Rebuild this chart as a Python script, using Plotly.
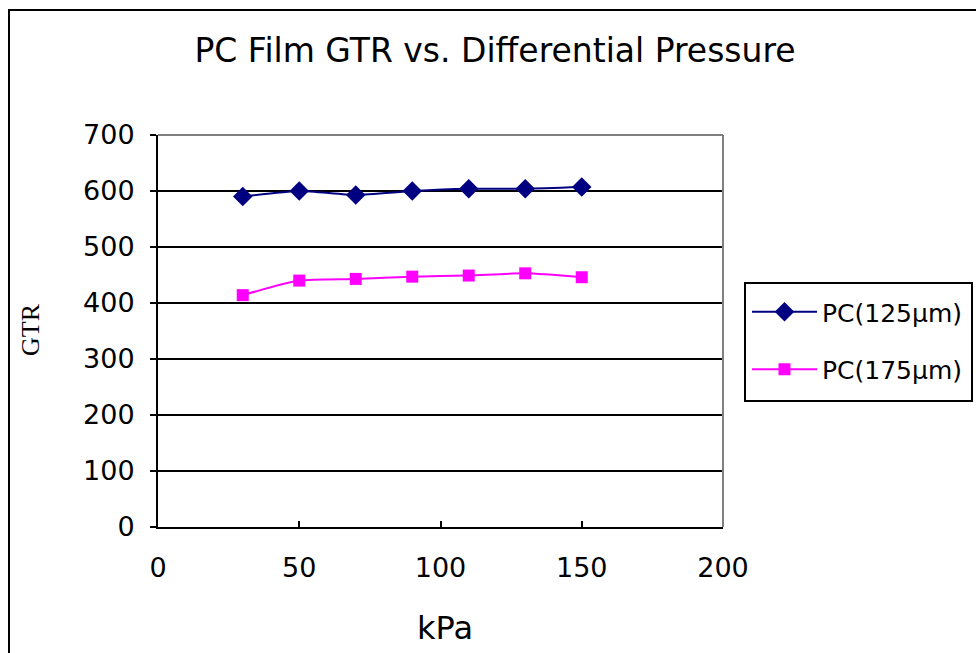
import plotly.graph_objects as go

kpa = [30, 50, 70, 90, 110, 130, 150]
pc125 = [590, 600, 593, 600, 604, 604, 607]
pc175 = [414, 440, 443, 447, 449, 453, 446]
series_names = ["PC(125µm)", "PC(175µm)"]

W, H = 976, 653
L, R, T, B = 158, 253, 135, 126
pw = W - L - R
ph = H - T - B

def px2x(px):
    return (px - L) / pw

def py2y(py):
    return (H - B - py) / ph

fig = go.Figure()
fig.add_trace(go.Scatter(
    x=kpa, y=pc125, name=series_names[0], mode="lines+markers",
    line=dict(color="#000080", width=2, shape="spline", smoothing=0.6),
    marker=dict(symbol="diamond", size=15, color="#000080"),
    legendgroup="a",
))
fig.add_trace(go.Scatter(
    x=kpa, y=pc175, name=series_names[1], mode="lines+markers",
    line=dict(color="#FF00FF", width=2, shape="spline", smoothing=0.6),
    marker=dict(symbol="square", size=12, color="#FF00FF"),
    legendgroup="b",
))

font = "DejaVu Sans, Verdana, sans-serif"
fig.update_layout(
    width=W, height=H,
    margin=dict(l=L, r=R, t=T, b=B, autoexpand=False),
    paper_bgcolor="white", plot_bgcolor="white",
    font=dict(family=font, color="black", size=27),
    title=dict(text="PC Film GTR vs. Differential Pressure", x=495 / W, xanchor="center",
               y=1 - 50 / H, yanchor="middle", font=dict(size=33, family=font)),
    showlegend=True,
    legend=dict(x=px2x(747), y=py2y(289), xanchor="left", yanchor="top",
                borderwidth=0, bgcolor="rgba(0,0,0,0)",
                font=dict(size=25, family=font), traceorder="grouped",
                tracegroupgap=22, itemwidth=65),
    shapes=[
        dict(type="rect", xref="paper", yref="paper", x0=px2x(9), y0=py2y(10),
             x1=px2x(1100), y1=py2y(800), line=dict(color="black", width=2),
             fillcolor="rgba(0,0,0,0)", layer="below"),
        dict(type="rect", xref="paper", yref="paper", x0=px2x(745), y0=py2y(283),
             x1=px2x(972), y1=py2y(401), line=dict(color="black", width=2),
             fillcolor="rgba(0,0,0,0)", layer="below"),
        dict(type="line", xref="paper", yref="paper", x0=0, x1=1, y0=1, y1=1,
             line=dict(color="#808080", width=2)),
        dict(type="line", xref="paper", yref="paper", x0=1, x1=1, y0=0, y1=1,
             line=dict(color="#808080", width=2)),
    ],
    annotations=[
        dict(text="GTR", xref="paper", yref="paper", x=px2x(30), y=py2y(330),
             showarrow=False, textangle=-90, xanchor="center", yanchor="middle",
             font=dict(family="Liberation Serif, Times New Roman, serif", size=26)),
        dict(text="kPa", xref="paper", yref="paper", x=px2x(445), y=py2y(628),
             showarrow=False, xanchor="center", yanchor="middle",
             font=dict(family=font, size=32)),
    ],
)
fig.update_xaxes(range=[0, 200], dtick=50, tick0=0, showgrid=False, zeroline=False,
                 showline=True, linecolor="black", linewidth=2,
                 ticks="inside", ticklen=6, tickwidth=2, tickcolor="black",
                 ticklabelstandoff=16)
fig.update_yaxes(range=[0, 700], dtick=100, tick0=0, showgrid=True, gridcolor="black",
                 gridwidth=2, zeroline=False,
                 showline=True, linecolor="black", linewidth=2,
                 ticks="outside", ticklen=6, tickwidth=2, tickcolor="black",
                 ticklabelstandoff=10)

fig.write_html("out.html", config={"displayModeBar": False},
               post_script="document.body.style.margin='0px';document.body.style.overflow='hidden';")
